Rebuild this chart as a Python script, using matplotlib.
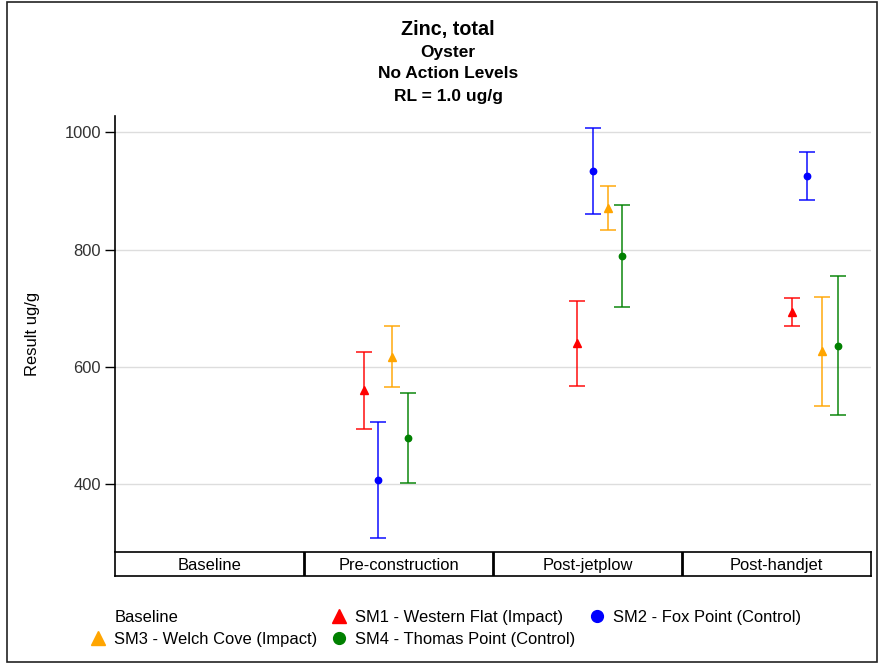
import numpy as np
import matplotlib
matplotlib.use("Agg")
import matplotlib.pyplot as plt
from matplotlib.lines import Line2D
from matplotlib.patches import Rectangle

plt.rcParams['font.family'] = ['Liberation Sans', 'DejaVu Sans']

# ---------------- data ----------------
categories = ["Baseline", "Pre-construction", "Post-jetplow", "Post-handjet"]
series_names = ["SM1 - Western Flat (Impact)", "SM2 - Fox Point (Control)",
                "SM3 - Welch Cove (Impact)", "SM4 - Thomas Point (Control)"]

nan = np.nan
sm1_mean = [nan, 561, 640, 694]
sm1_low  = [nan, 494, 567, 670]
sm1_high = [nan, 626, 713, 718]

sm2_mean = [nan, 407, 934, 925]
sm2_low  = [nan, 308, 861, 885]
sm2_high = [nan, 506, 1007, 966]

sm3_mean = [nan, 617, 871, 627]
sm3_low  = [nan, 565, 834, 534]
sm3_high = [nan, 669, 908, 720]

sm4_mean = [nan, 478, 790, 636]
sm4_low  = [nan, 402, 703, 518]
sm4_high = [nan, 555, 877, 755]

y_ticks = [400, 600, 800, 1000]

# ---------------- layout / style ----------------
# sampling position of each series inside each period (fraction of period width)
x_offsets = {
    "SM1": [0, -0.185, -0.054, 0.080],
    "SM2": [0, -0.111, 0.027, 0.163],
    "SM3": [0, -0.032, 0.106, 0.243],
    "SM4": [0, 0.048, 0.181, 0.324],
}
colors = {"SM1": "#ff0000", "SM2": "#0000ff", "SM3": "#ffa500", "SM4": "#008000"}
markers = {"SM1": "^", "SM2": "o", "SM3": "^", "SM4": "o"}
msizes = {"SM1": 6, "SM2": 4.6, "SM3": 6, "SM4": 4.6}

data = {
    "SM1": (sm1_mean, sm1_low, sm1_high),
    "SM2": (sm2_mean, sm2_low, sm2_high),
    "SM3": (sm3_mean, sm3_low, sm3_high),
    "SM4": (sm4_mean, sm4_low, sm4_high),
}

W, H = 881, 664
fig = plt.figure(figsize=(W / 100, H / 100), dpi=100)


def fx(px):
    return px / W


def fy(py):
    return 1 - py / H


FS = 11.9

ax = fig.add_axes([fx(115), fy(551), fx(871) - fx(115), fy(116) - fy(551)])
ax.set_xlim(-0.5, len(categories) - 0.5)
ax.set_ylim(286, 1028)

x_base = np.arange(len(categories))
for key, (mean, low, high) in data.items():
    mean = np.array(mean, float)
    low = np.array(low, float)
    high = np.array(high, float)
    xs = x_base + np.array(x_offsets[key])
    ax.errorbar(xs, mean, yerr=[mean - low, high - mean], fmt='none',
                ecolor=colors[key], elinewidth=1.3, capsize=6, capthick=1.3,
                alpha=0.8, zorder=3)
    ax.plot(xs, mean, linestyle='none', marker=markers[key], color=colors[key],
            markersize=msizes[key], zorder=4)

ax.set_yticks(y_ticks)
ax.set_yticklabels([str(v) for v in y_ticks])
ax.tick_params(axis='y', direction='out', length=7, width=1, labelsize=FS,
               labelcolor='#333333', pad=3)
ax.set_xticks([])
ax.grid(axis='y', color='#dddddd', linewidth=1)
ax.set_axisbelow(True)
for s in ['top', 'right', 'bottom']:
    ax.spines[s].set_visible(False)
ax.spines['left'].set_linewidth(1.2)
fig.text(fx(33), fy(334), "Result ug/g", rotation=90, fontsize=FS,
         ha='center', va='center')

# category table
tax = fig.add_axes([fx(115), fy(576), fx(871) - fx(115), fy(552) - fy(576)])
tax.set_xlim(-0.5, len(categories) - 0.5)
tax.set_ylim(0, 1)
tax.set_xticks([])
tax.set_yticks([])
for s in tax.spines.values():
    s.set_linewidth(1.2)
for i in range(1, len(categories)):
    tax.axvline(i - 0.5, color='black', linewidth=2)
for i, c in enumerate(categories):
    tax.text(i, 0.45, c, ha='center', va='center', fontsize=FS)

# titles
tx = fx(448)
fig.text(tx, fy(30), "Zinc, total", ha='center', va='center', fontsize=14.2, fontweight='bold')
fig.text(tx, fy(52), "Oyster", ha='center', va='center', fontsize=12.5, fontweight='bold')
fig.text(tx, fy(74), "No Action Levels", ha='center', va='center', fontsize=12.5, fontweight='bold')
fig.text(tx, fy(96), "RL = 1.0 ug/g", ha='center', va='center', fontsize=12.5, fontweight='bold')

# legend
h_base = Line2D([], [], linestyle='none', marker=None)
hs = {k: Line2D([], [], linestyle='none', marker=markers[k], color=colors[k],
                markersize=10 if markers[k] == '^' else 8.5) for k in data}
handles = [h_base, hs["SM3"], hs["SM1"], hs["SM4"], hs["SM2"]]
labels = ["Baseline", series_names[2], series_names[0], series_names[3], series_names[1]]
fig.legend(handles, labels, ncol=3, loc='upper left',
           bbox_to_anchor=(fx(91), fy(610)), frameon=False, fontsize=FS,
           handlelength=0.8, handletextpad=0.6, columnspacing=0.9,
           labelspacing=0.4, borderpad=0, borderaxespad=0)

# outer border
fig.add_artist(Rectangle((fx(7), fy(662)), fx(877) - fx(7), fy(2) - fy(662),
                         transform=fig.transFigure, fill=False,
                         edgecolor='#222222', linewidth=1.2))

fig.savefig("out.png", dpi=100)
